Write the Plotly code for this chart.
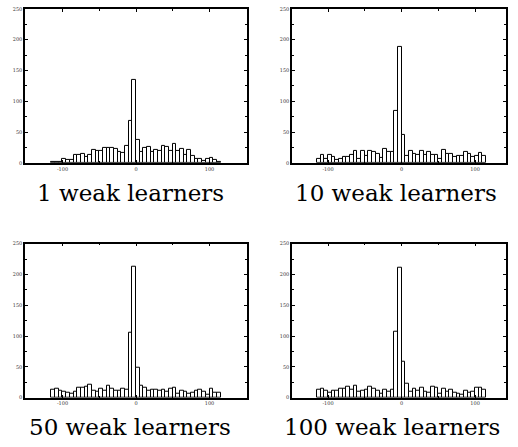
import plotly.graph_objects as go

# ---- data ----
bin_width = 5
bin_start = -115
captions = ["1 weak learners", "10 weak learners", "50 weak learners", "100 weak learners"]

counts_1 = [1, 2, 2, 7, 4, 4, 13, 13, 14, 9, 13, 21, 19, 20, 24, 25, 24, 22, 17, 16, 28, 68,
            134,
            38, 17, 24, 26, 18, 21, 20, 28, 26, 20, 30, 19, 22, 13, 21, 11, 6, 7, 3, 7, 8, 5, 2]
counts_10 = [7, 13, 6, 13, 10, 5, 7, 9, 10, 13, 19, 7, 19, 11, 19, 17, 14, 8, 22, 17, 18, 84,
             188,
             45, 12, 19, 14, 13, 19, 13, 18, 13, 13, 7, 21, 15, 15, 9, 12, 12, 17, 14, 9, 12, 16, 11]
counts_50 = [13, 15, 11, 9, 8, 7, 10, 16, 16, 18, 21, 12, 10, 14, 12, 19, 14, 11, 12, 14, 13, 105,
             213,
             48, 20, 16, 11, 13, 13, 11, 13, 10, 15, 16, 7, 12, 10, 6, 8, 11, 13, 9, 5, 14, 8, 8]
counts_100 = [13, 14, 11, 8, 11, 12, 14, 15, 18, 13, 19, 9, 12, 13, 18, 14, 12, 7, 13, 9, 13, 107,
              211,
              59, 23, 10, 14, 12, 16, 9, 8, 18, 16, 7, 15, 9, 13, 8, 7, 5, 12, 8, 10, 16, 16, 13]

x_ticks = [-100, 0, 100]
x_tick_text = ["-100", "0", "100"]
y_ticks = [0, 50, 100, 150, 200, 250]
y_tick_text = ["0", "50", "100", "150", "200", "250"]

all_counts = [counts_1, counts_10, counts_50, counts_100]

# ---- layout geometry (pixels) ----
W, H = 518, 447
panels = [
    # (left, right, top, bottom, xrange)
    (25, 247, 6, 162, [-151, 151]),
    (292, 506, 6, 162, [-149, 142]),
    (25, 247, 244, 400, [-151, 151]),
    (292, 506, 244, 400, [-149, 142]),
]
caption_pos = [(130, 193), (396, 193), (130, 430), (392, 430)]

fig = go.Figure()
tick_font = dict(family="DejaVu Serif", size=5, color="#333")

for k, (counts, (l, r, t, b, xr)) in enumerate(zip(all_counts, panels)):
    centers = [bin_start + bin_width * (i + 0.5) for i in range(len(counts))]
    xa = "x" if k == 0 else f"x{k+1}"
    ya = "y" if k == 0 else f"y{k+1}"
    fig.add_trace(go.Bar(
        x=centers, y=counts, width=bin_width,
        marker=dict(color="white", line=dict(color="black", width=1)),
        xaxis=xa, yaxis=ya, showlegend=False,
    ))
    xkey = "xaxis" if k == 0 else f"xaxis{k+1}"
    ykey = "yaxis" if k == 0 else f"yaxis{k+1}"
    fig.layout[xkey] = dict(
        domain=[l / W, r / W], range=xr, anchor=ya,
        tickvals=x_ticks, ticktext=x_tick_text, ticks="inside", ticklen=3,
        tickwidth=1, tickcolor="black", mirror="allticks",
        showline=True, linecolor="black", linewidth=1.5,
        showgrid=False, zeroline=False, tickfont=tick_font,
        minor=dict(tickvals=[-150, -50, 50, 150], ticks="inside", ticklen=2,
                   tickcolor="black", showgrid=False),
        fixedrange=True,
    )
    fig.layout[ykey] = dict(
        domain=[1 - b / H, 1 - t / H], range=[0, 250], anchor=xa,
        tickvals=y_ticks, ticktext=y_tick_text, ticks="inside", ticklen=3,
        tickwidth=1, tickcolor="black", mirror="allticks",
        showline=True, linecolor="black", linewidth=1.5,
        showgrid=False, zeroline=False, tickfont=tick_font,
        minor=dict(dtick=25, ticks="inside", ticklen=2, tickcolor="black", showgrid=False),
        fixedrange=True,
    )

for text, (cx, cy) in zip(captions, caption_pos):
    fig.add_annotation(
        text=text, x=cx / W, y=1 - cy / H, xref="paper", yref="paper",
        xanchor="center", yanchor="middle", showarrow=False,
        font=dict(family="DejaVu Serif", size=23, color="black"),
    )

fig.update_layout(
    width=W, height=H, margin=dict(l=0, r=0, t=0, b=0),
    paper_bgcolor="white", plot_bgcolor="white",
    bargap=0,
)

fig.write_html(
    "out.html",
    config={"displayModeBar": False},
    post_script="document.body.style.margin='0';document.body.style.overflow='hidden';",
)
